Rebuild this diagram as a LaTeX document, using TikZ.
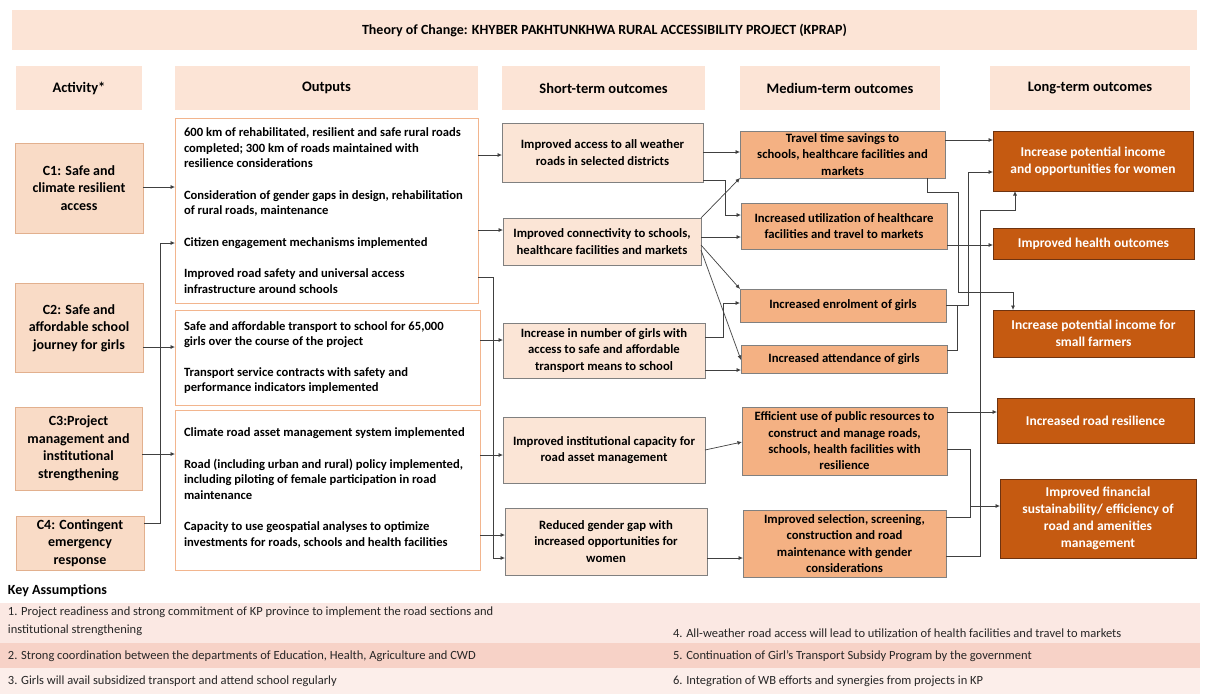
\documentclass[tikz,border=0pt]{standalone}
\usepackage{fontspec}
\setmainfont{Carlito}
\usetikzlibrary{arrows.meta,calc}
\definecolor{titlefill}{HTML}{FCE4D6}
\definecolor{actfill}{HTML}{F9DBC6}
\definecolor{actdraw}{HTML}{E2B08E}
\definecolor{outdraw}{HTML}{F2B58E}
\definecolor{shortfill}{HTML}{FBE5D6}
\definecolor{boxgray}{HTML}{808080}
\definecolor{medfill}{HTML}{F4B183}
\definecolor{longfill}{HTML}{C55A11}
\definecolor{longdraw}{HTML}{6E3310}
\definecolor{conncol}{HTML}{404040}
\definecolor{bandA}{HTML}{FBE8E3}
\definecolor{bandB}{HTML}{F7D2C7}
\definecolor{bandC}{HTML}{FCEEEA}
\begin{document}
\begin{tikzpicture}[x=1pt,y=-1pt,
  every node/.style={inner sep=0pt,outer sep=0pt},
  bx/.style 2 args={minimum width=#1,minimum height=#2},
  titlebox/.style={fill=titlefill,font=\bfseries\fontsize{14}{16}\selectfont},
  headbox/.style={fill=titlefill,font=\bfseries\fontsize{14.5}{16}\selectfont},
  actbox/.style={fill=actfill,draw=actdraw,line width=0.8pt,align=center,font=\bfseries\fontsize{14}{17.5}\selectfont},
  outbox/.style={fill=white,draw=outdraw,line width=0.8pt},
  outtext/.style={align=left,font=\bfseries\fontsize{12.6}{15.5}\selectfont},
  shortbox/.style={fill=shortfill,draw=boxgray,line width=0.8pt,align=center,font=\bfseries\fontsize{12.7}{16.5}\selectfont},
  medbox/.style={fill=medfill,draw=boxgray,line width=0.8pt,align=center,font=\bfseries\fontsize{12.7}{16.3}\selectfont},
  longbox/.style={fill=longfill,draw=longdraw,line width=0.8pt,align=center,text=white,font=\bfseries\fontsize{13.5}{17}\selectfont},
  assum/.style={anchor=west,align=left,font=\fontsize{12.5}{18}\selectfont,text=black!85},
  conn/.style={draw=conncol,line width=0.7pt,-{Latex[length=4.5pt,width=4pt]}},
  plain/.style={draw=conncol,line width=0.7pt}
]
\useasboundingbox (0,0) rectangle (1209,694);
\fill[white] (0,0) rectangle (1209,694);

% title and headers
\node[titlebox,bx={1185}{40}] (title) at (604.5,30) {Theory of Change: KHYBER PAKHTUNKHWA RURAL ACCESSIBILITY PROJECT (KPRAP)};
\node[headbox,bx={126}{44}] (h1) at (79,88) {Activity*};
\node[headbox,bx={303}{44}] (h2) at (326.5,88) {Outputs};
\node[headbox,bx={203}{44}] (h3) at (603.5,88) {Short-term outcomes};
\node[headbox,bx={200}{44}] (h4) at (840,88) {Medium-term outcomes};
\node[headbox,bx={200}{44}] (h5) at (1090,88) {Long-term outcomes};

% activities
\node[actbox,bx={128}{90}] (c1) at (79,188) {C1: Safe and\\climate resilient\\access};
\node[actbox,bx={128}{89}] (c2) at (79,328) {C2: Safe and\\affordable school\\journey for girls};
\node[actbox,bx={127}{83}] (c3) at (78.5,448.5) {C3:Project\\management and\\institutional\\strengthening};
\node[actbox,bx={128}{54}] (c4) at (80,543) {C4: Contingent\\emergency\\response};

% outputs
\node[outbox,bx={303}{185}] (o1) at (326.5,210.5) {};
\node[outtext,anchor=west] (o1t) at (184,210.5) {600 km of rehabilitated, resilient and safe rural roads\\completed; 300 km of roads maintained with\\resilience considerations\\[16pt]Consideration of gender gaps in design, rehabilitation\\of rural roads, maintenance\\[16pt]Citizen engagement mechanisms implemented\\[16pt]Improved road safety and universal access\\infrastructure around schools};
\node[outbox,bx={305}{95}] (o2) at (327.5,357.5) {};
\node[outtext,anchor=west] (o2t) at (184,357.5) {Safe and affordable transport to school for 65,000\\girls over the course of the project\\[15pt]Transport service contracts with safety and\\performance indicators implemented};
\node[outbox,bx={305}{160}] (o3) at (327.5,490) {};
\node[outtext,anchor=west] (o3t) at (184,488) {Climate road asset management system implemented\\[16pt]Road (including urban and rural) policy implemented,\\including piloting of female participation in road\\maintenance\\[16pt]Capacity to use geospatial analyses to optimize\\investments for roads, schools and health facilities};

% short-term
\node[shortbox,bx={201}{59}] (s1) at (602.5,152.5) {Improved access to all weather\\roads in selected districts};
\node[shortbox,bx={198}{47}] (s2) at (602,241.5) {Improved connectivity to schools,\\healthcare facilities and markets};
\node[shortbox,bx={202}{55}] (s3) at (604,350.5) {Increase in number of girls with\\access to safe and affordable\\transport means to school};
\node[shortbox,bx={202}{66}] (s4) at (604,450) {Improved institutional capacity for\\road asset management};
\node[shortbox,bx={202}{67}] (s5) at (606,541.5) {Reduced gender gap with\\increased opportunities for\\women};

% medium-term
\node[medbox,bx={205}{47}] (m1) at (842.5,154.5) {Travel time savings to\\schools, healthcare facilities and\\markets};
\node[medbox,bx={206}{46}] (m2) at (844,226) {Increased utilization of healthcare\\facilities and travel to markets};
\node[medbox,bx={206}{33}] (m3) at (843,305.5) {Increased enrolment of girls};
\node[medbox,bx={206}{28}] (m4) at (844,359) {Increased attendance of girls};
\node[medbox,bx={205}{68}] (m5) at (844.5,441) {Efficient use of public resources to\\construct and manage roads,\\schools, health facilities with\\resilience};
\node[medbox,bx={203}{67}] (m6) at (844.5,543.5) {Improved selection, screening,\\construction and road\\maintenance with gender\\considerations};

% long-term
\node[longbox,bx={200}{60}] (l1) at (1093,161) {Increase potential income\\and opportunities for women};
\node[longbox,bx={201}{31}] (l2) at (1093.5,243.5) {Improved health outcomes};
\node[longbox,bx={201}{47}] (l3) at (1093.5,333.5) {Increase potential income for\\small farmers};
\node[longbox,bx={197}{45}] (l4) at (1095.5,420.5) {Increased road resilience};
\node[longbox,bx={196}{79}] (l5) at (1098,518.5) {Improved financial\\sustainability/ efficiency of\\road and amenities\\management};

% activities -> outputs
\draw[conn] (c1.east |- 0,187) -- (o1.west |- 0,187);
\draw[conn] (c2.east |- 0,347) -- (o2.west |- 0,347);
\draw[conn] (c3.east |- 0,454) -- (o3.west |- 0,454);
\draw[conn] (c4.east |- 0,523) -- (160,523) -- (160,243) -- (o1.west |- 0,243);

% outputs -> short-term
\draw[conn] (o1.east |- 0,155) -- (s1.west |- 0,155);
\draw[conn] (o1.east |- 0,230) -- (s2.west |- 0,230);
\draw[conn] (o2.east |- 0,340) -- (s3.west |- 0,340);
\draw[conn] (o3.east |- 0,455) -- (s4.west |- 0,455);
\draw[conn] (o3.east |- 0,535) -- (s5.west |- 0,535);
\draw[conn] (o1.east |- 0,277) -- (493,277) -- (493,558) -- (s5.west |- 0,558);

% short-term -> medium-term
\draw[conn] (s1.east |- 0,152) -- (m1.west |- 0,152);
\draw[conn] (s1.east |- 0,180) -- (725,180) -- (725,215) -- (m2.west |- 0,215);
\draw[conn] (s2.north east) -- (m1.south west);
\draw[conn] (s2.east |- 0,237) -- (m2.west |- 0,237);
\draw[conn] (s2.east |- 0,245) -- (m3.north west);
\draw[conn] (s2.east |- 0,250) -- (m4.west |- 0,360);
\draw[conn] (s3.east |- 0,337) -- (723,337) -- (723,303) -- (m3.west |- 0,303);
\draw[conn] (s3.east |- 0,370) -- (m4.west |- 0,370);
\draw[conn] (s4.east |- 0,450) -- (m5.west |- 0,442);
\draw[conn] (s5.east |- 0,558) -- (m6.west |- 0,558);

% medium-term -> long-term
\draw[conn] (m1.east |- 0,140) -- (l1.west |- 0,140);
\draw[conn] (m1.south -| 927,0) -- (927,192) -- (958,192) -- (958,292) -- (1013,292) -- (l3.north -| 1013,0);
\draw[conn] (m2.east |- 0,245) -- (l2.west |- 0,245);
\draw[conn] (m3.east |- 0,305) -- (968,305) -- (968,172) -- (l1.west |- 0,172);
\draw[plain] (m4.east |- 0,350) -- (957,350) -- (957,305);
\draw[conn] (m5.east |- 0,412) -- (l4.west |- 0,412);
\draw[conn] (m6.east |- 0,556) -- (980,556) -- (980,210) -- (1015,210) -- (l1.south -| 1015,0);
\draw[plain] (m5.east |- 0,449) -- (970,449) -- (970,517) -- (m6.east |- 0,517);
\draw[conn] (970,506) -- (l5.west |- 0,506);

% key assumptions
\fill[bandA] (0,603) rectangle (1200,643);
\fill[bandB] (0,643) rectangle (1200,668);
\fill[bandC] (0,668) rectangle (1200,694);
\node[anchor=west,font=\bfseries\fontsize{14}{16}\selectfont] (ka) at (8,591) {Key Assumptions};
\node[assum] (a1) at (8,621) {1. Project readiness and strong commitment of KP province to implement the road sections and\\institutional strengthening};
\node[assum] (a2) at (8,656) {2. Strong coordination between the departments of Education, Health, Agriculture and CWD};
\node[assum] (a3) at (8,681) {3. Girls will avail subsidized transport and attend school regularly};
\node[assum] (a4) at (673,633) {4. All-weather road access will lead to utilization of health facilities and travel to markets};
\node[assum] (a5) at (673,656) {5. Continuation of Girl's Transport Subsidy Program by the government};
\node[assum] (a6) at (673,681) {6. Integration of WB efforts and synergies from projects in KP};
\end{tikzpicture}
\end{document}
